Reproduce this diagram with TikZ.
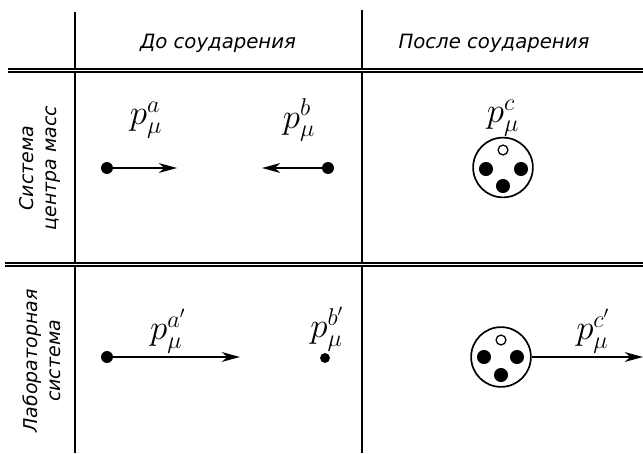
\documentclass[tikz,border=0pt]{standalone}
\usepackage{fontspec}
\setmainfont{PT Sans}
\newfontfamily\headfont{DejaVu Sans}
\usetikzlibrary{arrows.meta, positioning}

\tikzset{
  head/.style={font=\headfont\fontsize{14}{17}\selectfont\itshape},
  side/.style={font=\headfont\fontsize{13.5}{16}\selectfont\itshape, rotate=90, align=center},
  lbl/.style={font=\fontsize{24}{26}\selectfont},
  dot/.style={circle, fill, inner sep=0pt, minimum size=8.5pt},
  big/.style={circle, draw, line width=1.2pt, inner sep=0pt, minimum size=42.5pt},
  part/.style={circle, fill, inner sep=0pt, minimum size=10pt},
  hole/.style={circle, draw, line width=0.9pt, inner sep=0pt, minimum size=7pt},
  vec/.style={line width=1.1pt, -{Stealth[length=13pt, width=7pt, inset=4pt]}},
  rule/.style={line width=1pt},
  dbl/.style={double, line width=0.9pt, double distance=1.3pt}
}

\begin{document}
\begin{tikzpicture}[x=0.025cm, y=-0.025cm]
  \useasboundingbox (0,0) rectangle (643,453);

  % Таблица
  \draw[rule] (75,12) -- (75,453);
  \draw[rule] (362,10) -- (362,453);
  \draw[dbl] (8,70.5) -- (643,70.5);
  \draw[dbl] (5,264.5) -- (643,264.5);

  % Заголовки
  \node[head] (before) at (218,43) {До соударения};
  \node[head] (after) at (494,43) {После соударения};
  \node[side] (cms) at (40,168) {Система\\центра масс};
  \node[side] (lab) at (42,361) {Лабораторная\\система};

  % Система центра масс
  \node[dot] (a) at (107,168) {};
  \coordinate (ae) at (177,168);
  \draw[vec] (a) -- (ae);
  \node[lbl] (pa) at (146,120) {$p_\mu^a$};

  \node[dot] (b) at (328,168) {};
  \coordinate (be) at (262,168);
  \draw[vec] (b) -- (be);
  \node[lbl] (pb) at (299,120) {$p_\mu^b$};

  \node[big] (c) at (503,167.5) {};
  \node[hole] (c1) at (503,150) {};
  \node[part] (c2) at (486,169) {};
  \node[part] (c3) at (521,169) {};
  \node[part] (c4) at (503,186) {};
  \node[lbl] (pc) at (503,118) {$p_\mu^c$};

  % Лабораторная система
  \node[dot] (a1) at (107,357) {};
  \coordinate (a1e) at (240,357);
  \draw[vec] (a1) -- (a1e);
  \node[lbl] (pa1) at (168,331) {$p_\mu^{a'}$};

  \node[dot, minimum size=7pt] (b1) at (325,358) {};
  \node[lbl] (pb1) at (327,329) {$p_\mu^{b'}$};

  \node[big] (c0) at (501,357) {};
  \node[hole] (c01) at (501,340) {};
  \node[part] (c02) at (484,357) {};
  \node[part] (c03) at (517,357) {};
  \node[part] (c04) at (501,375) {};
  \coordinate (c0e) at (643,357);
  \draw[vec] (c0.east) -- (c0e);
  \node[lbl] (pc0) at (593,331) {$p_\mu^{c'}$};
\end{tikzpicture}
\end{document}
